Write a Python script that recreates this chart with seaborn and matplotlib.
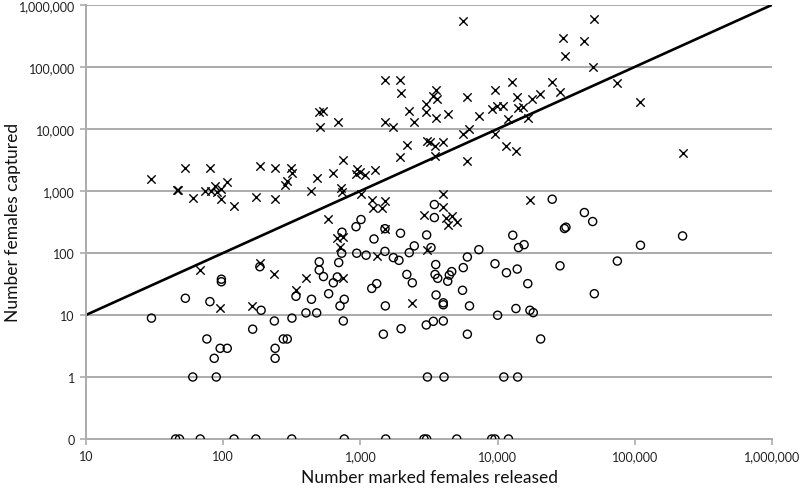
import numpy as np
import pandas as pd
import matplotlib
matplotlib.use("Agg")
import matplotlib.pyplot as plt
import seaborn as sns
from matplotlib.ticker import FixedLocator, FixedFormatter, NullLocator

# ---- data ----
cross_x = [30, 46, 47, 53, 60, 74, 80, 82, 87, 90, 97, 97, 107, 120, 173, 185, 240, 240,
           282, 290, 310, 316, 440, 480, 500, 508, 530, 585, 628, 692, 720, 735, 750, 930,
           940, 993, 1080, 1005, 1210, 1240, 1280, 1430, 1510, 1510, 1510, 1720, 1940, 1990,
           1940, 2260, 2470, 3030, 3030, 3400, 3560, 3630, 3560, 4350, 2180, 3040, 3220, 3470,
           4020, 3500, 4020, 4020, 2910, 4210, 4320, 4650, 5040, 5620, 5620, 6020, 6220, 6020,
           7360, 9060, 9500, 9570, 9900, 11000, 11600, 12000, 12700, 13700, 13900, 14200,
           15400, 16600, 17200, 17800, 20500, 24900, 28500, 30100, 31000, 42900, 49200, 50700,
           74600, 110000, 223000, 68, 95, 161, 185, 236, 337, 401, 675, 747, 710, 750, 1315,
           1510, 2390, 3040]
cross_y = [1550, 1040, 1040, 2320, 780, 1000, 2380, 990, 1210, 960, 1070, 735, 1410, 575,
           810, 2530, 2380, 735, 1240, 1450, 2320, 1930, 1000, 1600, 18400, 10900, 19100, 356,
           1930, 13100, 1110, 970, 3160, 1860, 2280, 2000, 1830, 885, 720, 530, 2160, 540, 690,
           60500, 12700, 10900, 60500, 38100, 3460, 19100, 12800, 25000, 18600, 34100, 42600,
           30100, 14800, 17300, 5560, 6450, 6040, 5360, 6100, 3630, 900, 556, 405, 363, 280,
           391, 316, 552000, 8220, 32100, 10100, 3050, 16300, 21300, 42100, 8220, 23200,
           23200, 5400, 14300, 57700, 4450, 32500, 22100, 22400, 15000, 708, 30100, 36300,
           57700, 39100, 294000, 149000, 262000, 97800, 588000, 55200, 27000, 4160, 53, 12.8,
           14.2, 68, 45, 25, 40, 176, 182, 124, 40, 88, 241, 15.8, 113]

circle_x = [30, 53, 60, 76, 80, 86, 89, 95, 97, 97, 107, 164, 185, 189, 236, 239, 239, 274,
            293, 317, 339, 401, 440, 480, 501, 501, 538, 587, 635, 679, 695, 710, 731, 763,
            751, 940, 1100, 1210, 1315, 1256, 1470, 1510, 1520, 1740, 1910, 1980, 2180, 2390,
            3020, 3400, 4020, 3540, 3500, 3660, 3560, 4020, 4020, 4450, 4630, 4330, 5620, 6020,
            7300, 5550, 6240, 6020, 9570, 11600, 13900, 16600, 13600, 17200, 18200, 10000,
            20600, 28500, 50700, 74600, 110000, 223000, 25000, 42900, 49300, 30700, 31500,
            12900, 14200, 15600, 3460, 3460, 3040, 2470, 2270, 3270, 1960, 1510, 1010, 929, 734,
            3080, 4070, 11100, 14000,
            45, 48, 68, 120, 173, 316, 763, 1530, 2910, 3040, 5040, 9060, 9570, 12000]
circle_y = [8.9, 18.6, 1, 4.1, 16.4, 2, 1, 2.9, 37.7, 34.3, 2.9, 5.9, 60, 11.9, 8, 2.9, 2,
            4.1, 4.1, 8.9, 20, 10.8, 17.9, 10.8, 72, 53, 41.6, 22, 33, 41, 70, 14, 99, 17.9, 8,
            99, 92, 26.8, 32, 168, 4.9, 106, 14, 84, 76, 6, 45, 33, 6.9, 7.9, 8, 65, 45, 39, 21,
            15.7, 14.6, 44, 50, 35, 58, 86, 113, 25, 14, 4.9, 67, 48, 55, 32, 12.7, 11.9, 10.9,
            9.9, 4.1, 62, 22, 74, 133, 188, 735, 448, 321, 248, 260, 193, 122, 136, 603, 372,
            195, 130, 101, 122, 208, 246, 346, 265, 216,
            1, 1, 1, 1,
            0, 0, 0, 0, 0, 0, 0, 0, 0, 0, 0, 0, 0, 0]

line_x = [10, 1000000]
line_y = [10, 1000000]

x_ticks = [10, 100, 1000, 10000, 100000, 1000000]
x_labels = ["10", "100", "1,000", "10,000", "100,000", "1,000,000"]
y_ticks = [0.1, 1, 10, 100, 1000, 10000, 100000, 1000000]
y_labels = ["0", "1", "10", "100", "1,000", "10,000", "100,000", "1,000,000"]

ZERO_POS = 0.1  # where "0" sits on the log axis

# ---- plotting ----
sns.set_theme(style="white")
plt.rcParams["font.family"] = ["Lato", "DejaVu Sans"]

fig = plt.figure(figsize=(8.0, 4.89), dpi=100)
ax = fig.add_axes([0.1075, 0.1002, 0.8575, 0.8878])

grid_c = "#ababab"
for yv in y_ticks:
    ax.axhline(yv, color=grid_c, lw=1.4, zorder=0)

dfc = pd.DataFrame({"x": circle_x, "y": np.where(np.array(circle_y) == 0, ZERO_POS, circle_y)})
dfx = pd.DataFrame({"x": cross_x, "y": cross_y})

sns.lineplot(x=line_x, y=line_y, ax=ax, color="black", lw=1.9, zorder=2)
sns.scatterplot(data=dfc, x="x", y="y", ax=ax, marker="o", s=34, facecolor="none",
                edgecolor="black", linewidth=1.0, zorder=3)
sns.scatterplot(data=dfx, x="x", y="y", ax=ax, marker="x", s=36, color="black",
                linewidth=1.0, zorder=3)

ax.set_xscale("log")
ax.set_yscale("log")
ax.set_xlim(10, 1000000)
ax.set_ylim(ZERO_POS, 1000000)

ax.xaxis.set_major_locator(FixedLocator(x_ticks))
ax.xaxis.set_major_formatter(FixedFormatter(x_labels))
ax.xaxis.set_minor_locator(NullLocator())
ax.yaxis.set_major_locator(FixedLocator(y_ticks))
ax.yaxis.set_major_formatter(FixedFormatter(y_labels))
ax.yaxis.set_minor_locator(NullLocator())

for s in ["top", "right"]:
    ax.spines[s].set_visible(False)
for s in ["left", "bottom"]:
    ax.spines[s].set_color(grid_c)
    ax.spines[s].set_linewidth(1.4)

ax.tick_params(axis="both", which="major", length=4, width=1.2, color=grid_c,
               labelsize=9, labelcolor="#222222", pad=4)
ax.tick_params(axis="x", direction="out", bottom=True)
ax.tick_params(axis="y", direction="out", left=True)

ax.set_xlabel("Number marked females released", fontsize=12.5, color="#111111")
ax.set_ylabel("Number females captured", fontsize=12.5, color="#111111")
ax.xaxis.set_label_coords(0.5, -0.068)
ax.yaxis.set_label_coords(-0.095, 0.5)

fig.savefig("out.png", dpi=100, facecolor="white")
